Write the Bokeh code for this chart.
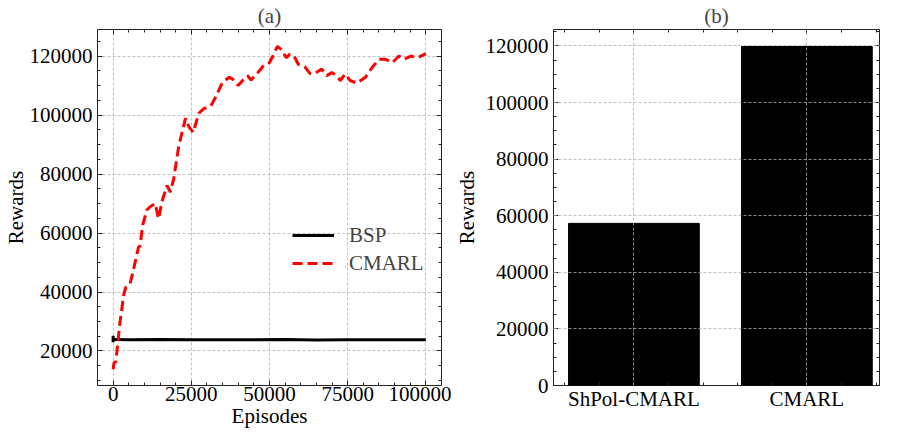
from bokeh.plotting import figure
from bokeh.layouts import row
from bokeh.models import (Range1d, SingleIntervalTicker, FixedTicker, LinearAxis,
                          Legend, LegendItem, BasicTickFormatter, CustomJSTickFormatter)
from bokeh.embed import file_html
from bokeh.resources import INLINE

FONT = "Liberation Serif"
FS = "21px"

# ---- data (a) ----
episodes = [0, 300, 870, 2150, 3450, 4100, 5400, 6450, 8060, 8600, 9480, 10770,
            11840, 13450, 14520, 15600, 17200, 18300, 19350, 20970, 23130, 24200,
            25600, 27400, 29000, 31200, 32800, 34970, 37100, 38200, 40000, 41400,
            43000, 44100, 46300, 48400, 50000, 51100, 52500, 53800, 55400, 56450,
            57850, 59200, 61300, 62900, 64500, 66700, 68300, 69900, 71500, 72600,
            74200, 75800, 77970, 80650, 82800, 85000, 87100, 89300, 91400, 93000,
            95200, 97300, 100000]
cmarl = [13800, 16100, 16300, 29400, 39400, 41700, 42800, 47300, 55000, 55700, 62800,
         67800, 68900, 70000, 64800, 70600, 76100, 73900, 78300, 89400, 98900, 96100,
         94100, 100600, 102200, 103000, 106100, 111100, 112800, 112200, 110000, 111700,
         113300, 111900, 114400, 117200, 117800, 120000, 123300, 122200, 119400, 120600,
         120000, 117200, 116300, 114100, 114100, 115600, 113300, 114400, 113300, 111700,
         113900, 111700, 110800, 112800, 116100, 118900, 118900, 117800, 120000, 118900,
         120000, 119400, 120800]
bsp_x = [0, 0, 0, 800, 5000, 15000, 25000, 35000, 45000, 55000, 65000, 75000, 85000,
         95000, 100000]
bsp = [25200, 23000, 23900, 23900, 23800, 23900, 23800, 23850, 23800, 23900, 23750,
       23850, 23800, 23850, 23800]

# ---- data (b) ----
bar_labels = ["ShPol-CMARL", "CMARL"]
bar_pos = [0, 1]
bar_values = [57300, 119800]


def style(p, xticker, yticker, grid_level="underlay"):
    p.outline_line_color = "#222222"
    p.outline_line_width = 1
    p.background_fill_color = "white"
    p.border_fill_color = "white"
    p.title.text_font = FONT
    p.title.text_font_size = FS
    p.title.text_font_style = "normal"
    p.title.align = "center"
    p.title.standoff = 3
    p.title.offset = 0
    p.title.text_line_height = 1.0
    for ax in list(p.xaxis) + list(p.yaxis):
        ax.axis_line_color = None
        ax.major_tick_in = 5
        ax.major_tick_out = 0
        ax.minor_tick_in = 3
        ax.minor_tick_out = 0
        ax.major_tick_line_color = "#222222"
        ax.minor_tick_line_color = "#222222"
        ax.major_label_text_font = FONT
        ax.major_label_text_font_size = FS
        ax.major_label_text_color = "black"
        ax.major_label_text_line_height = 1.0
        ax.axis_label_text_font = FONT
        ax.axis_label_text_font_size = FS
        ax.axis_label_text_font_style = "normal"
        ax.axis_label_text_color = "black"
        ax.axis_label_text_line_height = 1.0
    p.xaxis.major_label_standoff = 1
    p.xaxis.axis_label_standoff = 0
    p.yaxis.major_label_standoff = 5
    for g in [p.xgrid[0], p.ygrid[0]]:
        g.grid_line_color = "#b0b0b0"
        g.grid_line_dash = "3 2"
        g.grid_line_width = 0.8
        g.level = grid_level
    # mirrored axes (ticks only)
    top = LinearAxis(ticker=xticker)
    right = LinearAxis(ticker=yticker)
    for ax in (top, right):
        ax.axis_line_color = None
        ax.major_tick_in = 5
        ax.major_tick_out = 0
        ax.minor_tick_in = 3
        ax.minor_tick_out = 0
        ax.major_tick_line_color = "#222222"
        ax.minor_tick_line_color = "#222222"
        ax.formatter = CustomJSTickFormatter(code="return '';")
        ax.major_label_standoff = 0
        ax.major_label_text_font_size = "1px"
        ax.axis_label = None
    p.add_layout(top, "above")
    p.add_layout(right, "right")


# ---- figure (a) ----
p1 = figure(width=451, height=430, output_backend="svg", toolbar_location=None,
            x_range=Range1d(-5000, 105000), y_range=Range1d(8300, 129000),
            title="(a)", min_border_left=90, min_border_right=10,
            min_border_top=26, min_border_bottom=44)
p1.xaxis.axis_label = "Episodes"
p1.yaxis.axis_label = "Rewards"
xt1 = SingleIntervalTicker(interval=25000, num_minor_ticks=5)
yt1 = SingleIntervalTicker(interval=20000, num_minor_ticks=4)
p1.xaxis.ticker = xt1
p1.yaxis.ticker = yt1
p1.xaxis.formatter = BasicTickFormatter(use_scientific=False)
p1.yaxis.formatter = BasicTickFormatter(use_scientific=False)

r_bsp = p1.line(bsp_x, bsp, line_color="black", line_width=3)
r_cm = p1.line(episodes, cmarl, line_color="#ff0000", line_width=3, line_dash="10 5")

style(p1, xt1, yt1)
p1.yaxis.axis_label_standoff = -1

leg = Legend(items=[LegendItem(label="BSP", renderers=[r_bsp]),
                    LegendItem(label="CMARL", renderers=[r_cm])],
             location=(195, 108))
leg.border_line_color = None
leg.background_fill_alpha = 0
leg.padding = 0
leg.margin = 0
leg.spacing = 0
leg.glyph_width = 42
leg.glyph_height = 28
leg.label_height = 28
leg.label_standoff = 15
leg.label_text_font = FONT
leg.label_text_font_size = FS
leg.label_text_line_height = 1.0
p1.add_layout(leg, "center")

# ---- figure (b) ----
p2 = figure(width=433, height=430, output_backend="svg", toolbar_location=None,
            x_range=Range1d(-0.465, 1.42), y_range=Range1d(0, 125800),
            title="(b)", min_border_left=94, min_border_right=5,
            min_border_top=26, min_border_bottom=44)
p2.yaxis.axis_label = "Rewards"
xt2 = FixedTicker(ticks=bar_pos, minor_ticks=[-0.4, -0.2, 0.2, 0.4, 0.6, 0.8, 1.2, 1.4])
yt2 = SingleIntervalTicker(interval=20000, num_minor_ticks=4)
p2.xaxis.ticker = xt2
p2.yaxis.ticker = yt2
p2.yaxis.formatter = BasicTickFormatter(use_scientific=False)
p2.xaxis.major_label_overrides = {pos: lab for pos, lab in zip(bar_pos, bar_labels)}
p2.vbar(x=bar_pos, top=bar_values, width=0.756, fill_color="black", line_color="black")
style(p2, xt2, yt2, grid_level="overlay")
p2.yaxis.axis_label_standoff = 4

layout = row(p1, p2)
open("out.html", "w").write(file_html(layout, INLINE))
